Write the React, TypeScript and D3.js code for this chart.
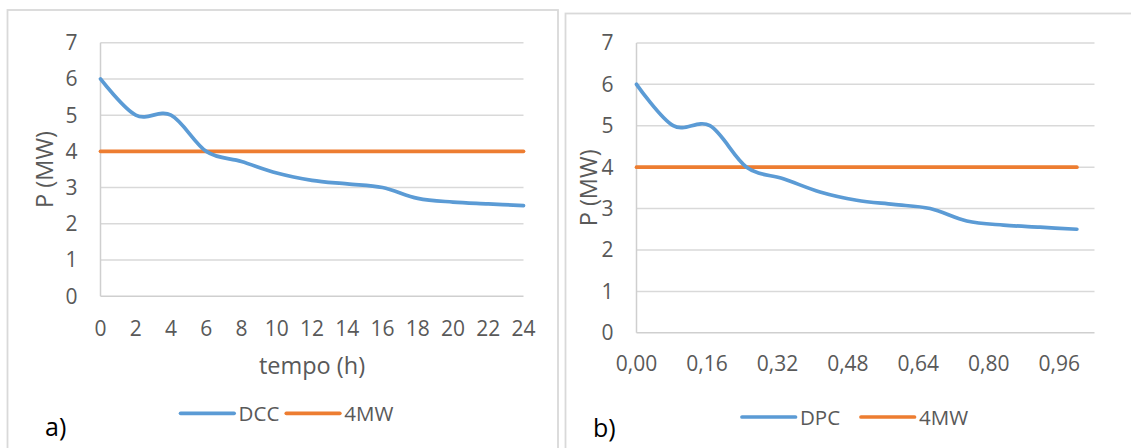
import React from "react";
import * as d3 from "d3";

// ---- data ----
const hours = [0, 2, 4, 6, 8, 10, 12, 14, 16, 18, 20, 22, 24];
const dccValues = [6, 5, 5, 4, 3.72, 3.4, 3.2, 3.1, 3.0, 2.7, 2.6, 2.55, 2.5];
const dpcX = [0, 0.0833, 0.1667, 0.25, 0.3333, 0.4167, 0.5, 0.5833, 0.6667, 0.75, 0.8333, 0.9167, 1];
const dpcValues = [6, 5, 5, 4, 3.72, 3.4, 3.2, 3.1, 3.0, 2.7, 2.6, 2.55, 2.5];
const refLeftX = [0, 24];
const refRightX = [0, 1];
const refValues = [4, 4];
const yTicks = [0, 1, 2, 3, 4, 5, 6, 7];
const leftXTicks = [0, 2, 4, 6, 8, 10, 12, 14, 16, 18, 20, 22, 24];
const rightXTicks = [0, 0.16, 0.32, 0.48, 0.64, 0.8, 0.96];
const seriesNamesLeft = ["DCC", "4MW"];
const seriesNamesRight = ["DPC", "4MW"];

const BLUE = "#5B9BD5";
const ORANGE = "#ED7D31";
const GRID = "#D9D9D9";
const AXIS = "#CFCFCF";
const TEXT = "#595959";
const FONT = "'Open Sans', sans-serif";

type PanelProps = {
  xDomain: [number, number];
  xRange: [number, number];
  yRange: [number, number];
  xTicks: number[];
  fmt: (v: number) => string;
  xs: number[];
  ys: number[];
  refX: number[];
  names: string[];
  xTitle?: string;
  titleX: number;
  xTickY: number;
  legendY: number;
  legendX: [number, number];
  tag: string;
  tagX: number;
  tagY: number;
};

function Panel(p: PanelProps) {
  const x = d3.scaleLinear().domain(p.xDomain).range(p.xRange);
  const y = d3.scaleLinear().domain([0, 7]).range(p.yRange);
  const line = d3
    .line<[number, number]>()
    .x((d) => x(d[0]))
    .y((d) => y(d[1]))
    .curve(d3.curveCardinal.tension(0));
  const straight = d3
    .line<[number, number]>()
    .x((d) => x(d[0]))
    .y((d) => y(d[1]));
  const mainPts = p.xs.map((v, i) => [v, p.ys[i]] as [number, number]);
  const refPts = p.refX.map((v, i) => [v, refValues[i]] as [number, number]);
  const [x0, x1] = p.xRange;
  const midY = (p.yRange[0] + p.yRange[1]) / 2;
  const lineLen = 53.5;
  return (
    <g>
      {yTicks.map((t) => (
        <line key={"g" + t} x1={x0} x2={x1} y1={y(t)} y2={y(t)} stroke={t === 0 ? AXIS : GRID} strokeWidth={1.5} />
      ))}
      <line x1={x0} x2={x0} y1={y(0)} y2={y(7)} stroke={AXIS} strokeWidth={1.5} />
      {yTicks.map((t) => (
        <text key={"yl" + t} x={x0 - 23} y={y(t) + 7.5} textAnchor="end" fontSize={21} fill={TEXT} fontFamily={FONT}>
          {t}
        </text>
      ))}
      {p.xTicks.map((t) => (
        <text key={"xl" + t} x={x(t)} y={p.xTickY} textAnchor="middle" fontSize={21} fill={TEXT} fontFamily={FONT}>
          {p.fmt(t)}
        </text>
      ))}
      <text
        transform={`translate(${p.titleX},${midY}) rotate(-90)`}
        textAnchor="middle"
        dominantBaseline="central"
        fontSize={23.5}
        fill={TEXT}
        fontFamily={FONT}
      >
        P (MW)
      </text>
      {p.xTitle && (
        <text x={(x0 + x1) / 2} y={374} textAnchor="middle" fontSize={23.5} fill={TEXT} fontFamily={FONT}>
          {p.xTitle}
        </text>
      )}
      <path d={straight(refPts) || ""} fill="none" stroke={ORANGE} strokeWidth={3.7} strokeLinecap="round" />
      <path d={line(mainPts) || ""} fill="none" stroke={BLUE} strokeWidth={3.7} strokeLinecap="round" />
      {p.names.map((n, i) => (
        <g key={n}>
          <line
            x1={p.legendX[i]}
            x2={p.legendX[i] + lineLen}
            y1={p.legendY}
            y2={p.legendY}
            stroke={i === 0 ? BLUE : ORANGE}
            strokeWidth={3.7}
            strokeLinecap="round"
          />
          <text x={p.legendX[i] + lineLen + 4.5} y={p.legendY + 7.5} fontSize={20.5} fill={TEXT} fontFamily={FONT}>
            {n}
          </text>
        </g>
      ))}
      <text x={p.tagX} y={p.tagY} fontSize={25} fill="#000" fontFamily={FONT}>
        {p.tag}
      </text>
    </g>
  );
}

export default function App() {
  const fmtComma = (v: number) => d3.format(".2f")(v).replace(".", ",");
  return (
    <svg width={1131} height={448} style={{ position: "absolute", left: 0, top: 0, background: "#fff" }}>
      <rect x={0} y={0} width={1131} height={448} fill="#fff" />
      <rect x={7.5} y={10} width={550.5} height={460} fill="none" stroke={GRID} strokeWidth={1.8} />
      <rect x={565.5} y={13.5} width={600} height={460} fill="none" stroke={GRID} strokeWidth={1.8} />
      <Panel
        xDomain={[0, 24]}
        xRange={[100.5, 523.5]}
        yRange={[296.2, 42.7]}
        xTicks={leftXTicks}
        fmt={(v) => String(v)}
        xs={hours}
        ys={dccValues}
        refX={refLeftX}
        names={seriesNamesLeft}
        xTitle="tempo (h)"
        titleX={43.6}
        xTickY={335.5}
        legendY={413.3}
        legendX={[180.6, 286.3]}
        tag="a)"
        tagX={45}
        tagY={436}
      />
      <Panel
        xDomain={[0, 1.04]}
        xRange={[636.5, 1094.5]}
        yRange={[332.8, 42.9]}
        xTicks={rightXTicks}
        fmt={fmtComma}
        xs={dpcX}
        ys={dpcValues}
        refX={refRightX}
        names={seriesNamesRight}
        titleX={588}
        xTickY={371}
        legendY={417}
        legendX={[742, 861]}
        tag="b)"
        tagX={593}
        tagY={437}
      />
    </svg>
  );
}
